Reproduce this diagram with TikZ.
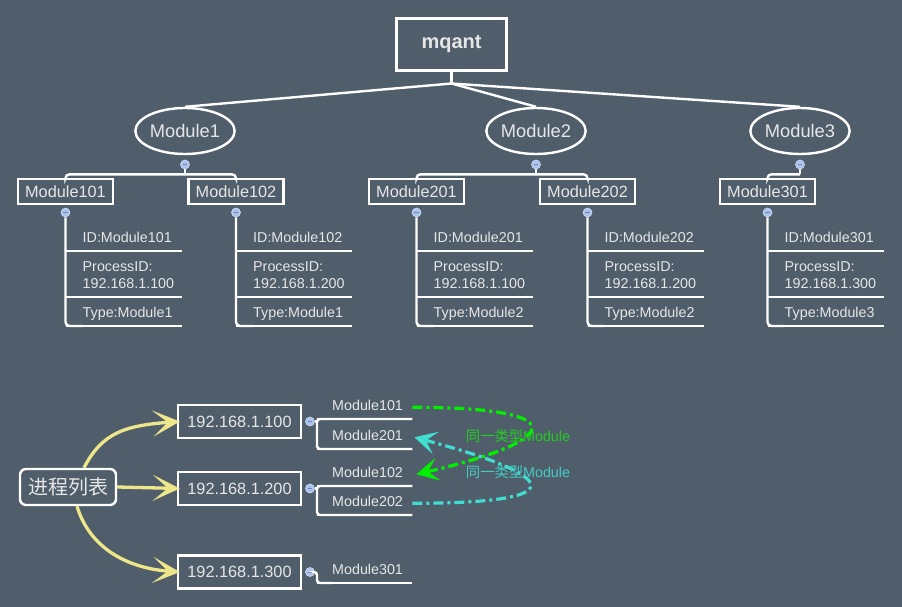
\documentclass[tikz,border=0pt]{standalone}
\usepackage{fontspec}
\setmainfont{Liberation Sans}
\newfontfamily\cjk{Noto Sans CJK SC}
\usetikzlibrary{positioning,shapes.geometric,arrows.meta}
\definecolor{bg}{HTML}{505E6B}
\definecolor{txt}{HTML}{E6E6E6}
\definecolor{foldfill}{HTML}{A9C2EE}
\definecolor{foldline}{HTML}{D4E0F7}
\definecolor{foldbar}{HTML}{6F86B0}
\definecolor{ylw}{HTML}{EEE68A}
\definecolor{grn}{HTML}{00F000}
\definecolor{grntxt}{HTML}{22CC22}
\definecolor{cyn}{HTML}{40DDD0}
\definecolor{cyntxt}{HTML}{44CCC4}
\tikzset{
  branch/.style={white,line width=2.4pt},
  rootbox/.style={draw=white,line width=3pt,minimum width=110pt,minimum height=52pt,text=txt,font=\fontsize{20}{24}\selectfont\bfseries},
  modnode/.style={ellipse,draw=white,line width=2.4pt,minimum width=90pt,minimum height=46pt,inner sep=0pt,text=txt,font=\fontsize{18.3}{22}\selectfont},
  childbox/.style={draw=white,line width=2.4pt,minimum height=25pt,inner xsep=7pt,inner ysep=0pt,text=txt,font=\fontsize{16.3}{19}\selectfont},
  ipbox/.style={draw=white,line width=2.4pt,minimum width=123pt,minimum height=33pt,text=txt,font=\fontsize{16.3}{19}\selectfont},
  listbox/.style={draw=white,line width=2.4pt,rounded corners=6pt,minimum width=96pt,minimum height=36pt,text=txt,font=\cjk\fontsize{20}{24}\selectfont},
  fold/.style={circle,fill=foldfill,draw=foldline,line width=0.6pt,minimum size=9pt,inner sep=0pt,
    path picture={\draw[foldbar,line width=0.9pt] ([xshift=-2.2pt]path picture bounding box.center) -- ([xshift=2.2pt]path picture bounding box.center);}},
  leafbase/.style={anchor=south west,inner xsep=0pt,inner ysep=3pt,align=left,text=txt,
    font=\fontsize{14.3}{17}\selectfont,execute at begin node=\strut,execute at end node=\strut},
  leaf/.style={leafbase,text width=99pt,
    append after command={([xshift=-17pt]\tikzlastnode.south west) edge[branch] (\tikzlastnode.south east)}},
  procleaf/.style={leafbase,text width=80pt,
    append after command={([xshift=-15pt]\tikzlastnode.south west) edge[branch] (\tikzlastnode.south east)}},
  yline/.style={ylw,line width=3.3pt,-{Stealth[length=27pt,width=26pt,inset=15pt]}},
  grnline/.style={grn,line width=3.2pt,dash pattern=on 10pt off 4pt on 3pt off 4pt,-{Stealth[length=22pt,width=23pt,inset=10pt]}},
  cynline/.style={cyn,line width=3.2pt,dash pattern=on 10pt off 4pt on 3pt off 4pt,-{Stealth[length=22pt,width=23pt,inset=10pt]}},
  samelab/.style={font=\fontsize{14.3}{17}\selectfont,inner sep=1pt}
}
\begin{document}
\begin{tikzpicture}[x=1pt,y=-1pt]
\fill[bg] (0,0) rectangle (902,607);
\useasboundingbox (0,0) rectangle (902,607);

\node[rootbox] (root) at (451.5,44.5) {mqant};
\node[modnode] (mod1) at (185,131) {Module1};
\node[modnode] (mod2) at (536,131) {Module2};
\node[modnode] (mod3) at (800,131) {Module3};
\node[fold,below=4.5pt of mod1] (f1) {};
\node[fold,below=4.5pt of mod2] (f2) {};
\node[fold,below=4.5pt of mod3] (f3) {};

\draw[branch] (root.south) -- ++(0,11.5) coordinate (hub);
\draw[branch] (hub) -- (mod1.north);
\draw[branch] (hub) -- (mod2.north);
\draw[branch] (hub) -- (mod3.north);

\node[childbox] (m101) at (65.5,191.5) {Module101};
\node[childbox] (m102) at (236,191.5) {Module102};
\node[childbox] (m201) at (416.5,191.5) {Module201};
\node[childbox] (m202) at (587.5,191.5) {Module202};
\node[childbox] (m301) at (767.5,191.5) {Module301};
\node[fold,below=2.5pt of m101] (k101) {};
\node[fold,below=2.5pt of m102] (k102) {};
\node[fold,below=2.5pt of m201] (k201) {};
\node[fold,below=2.5pt of m202] (k202) {};
\node[fold,below=2.5pt of m301] (k301) {};

\draw[branch] (f1.south) -- ++(0,5) coordinate (j1);
\draw[branch] (f2.south) -- ++(0,5) coordinate (j2);
\draw[branch] (f3.south) -- ++(0,5) coordinate (j3);
\draw[branch,rounded corners=4] (m101.north) |- (j1) -| (m102.north);
\draw[branch,rounded corners=4] (m201.north) |- (j2) -| (m202.north);
\draw[branch,rounded corners=4] (m301.north) |- (j3);

\node[leaf] (id101) at (82.5,251) {ID:Module101};
\node[leaf] (pid101) at (82.5,297) {ProcessID:\\192.168.1.100};
\node[leaf] (ty101) at (82.5,326) {Type:Module1};
\node[leaf] (id102) at (253,251) {ID:Module102};
\node[leaf] (pid102) at (253,297) {ProcessID:\\192.168.1.200};
\node[leaf] (ty102) at (253,326) {Type:Module1};
\node[leaf] (id201) at (433.5,251) {ID:Module201};
\node[leaf] (pid201) at (433.5,297) {ProcessID:\\192.168.1.100};
\node[leaf] (ty201) at (433.5,326) {Type:Module2};
\node[leaf] (id202) at (604.5,251) {ID:Module202};
\node[leaf] (pid202) at (604.5,297) {ProcessID:\\192.168.1.200};
\node[leaf] (ty202) at (604.5,326) {Type:Module2};
\node[leaf] (id301) at (784.5,251) {ID:Module301};
\node[leaf] (pid301) at (784.5,297) {ProcessID:\\192.168.1.300};
\node[leaf] (ty301) at (784.5,326) {Type:Module3};
\draw[branch,rounded corners=4] (k101.south) |- (ty101.south west);
\draw[branch,rounded corners=4] (k102.south) |- (ty102.south west);
\draw[branch,rounded corners=4] (k201.south) |- (ty201.south west);
\draw[branch,rounded corners=4] (k202.south) |- (ty202.south west);
\draw[branch,rounded corners=4] (k301.south) |- (ty301.south west);

\node[listbox] (plist) at (68,487) {进程列表};
\node[ipbox] (ip100) at (239.5,421.5) {192.168.1.100};
\node[ipbox] (ip200) at (239.5,488.5) {192.168.1.200};
\node[ipbox] (ip300) at (239.5,572) {192.168.1.300};
\node[fold,right=3pt of ip100] (f100) {};
\node[fold,right=3pt of ip200] (f200) {};
\node[fold,right=3pt of ip300] (f300) {};

\draw[yline] ([xshift=16pt]plist.north) .. controls +(18,-35) and +(-55,4) .. ([xshift=3pt]ip100.west);
\draw[yline] (plist.east) -- ([xshift=3pt]ip200.west);
\draw[yline] ([xshift=9pt]plist.south) .. controls +(12,40) and +(-55,-4) .. ([xshift=3pt]ip300.west);

\node[procleaf] (p101) at (332,419) {Module101};
\node[procleaf] (p201) at (332,449) {Module201};
\node[procleaf] (p102) at (332,486) {Module102};
\node[procleaf] (p202) at (332,515) {Module202};
\node[procleaf] (p301) at (332,583) {Module301};
\draw[branch,rounded corners=3] (p101.south east) -| ([xshift=-15pt]p201.south west) -- (p201.south east);
\draw[branch,rounded corners=3] (p102.south east) -| ([xshift=-15pt]p202.south west) -- (p202.south east);
\draw[branch,shorten >=15pt] (f100.east) -- (f100.east -| p101.west);
\draw[branch,shorten >=15pt] (f200.east) -- (f200.east -| p102.west);
\draw[branch,rounded corners=3] (f300.east) -| ([xshift=-15pt]p301.south west) -- (p301.south west);

\draw[grnline] (p101.east) .. controls +(160,0) and +(150,-35) .. ([xshift=4pt]p102.east);
\draw[cynline] (p202.east) .. controls +(160,0) and +(150,40) .. ([xshift=2pt]p201.east);
\node[samelab,text=grntxt] (same1) at (518,436) {{\cjk 同一类型}Module};
\node[samelab,text=cyntxt] (same2) at (518,472) {{\cjk 同一类型}Module};
\end{tikzpicture}
\end{document}
